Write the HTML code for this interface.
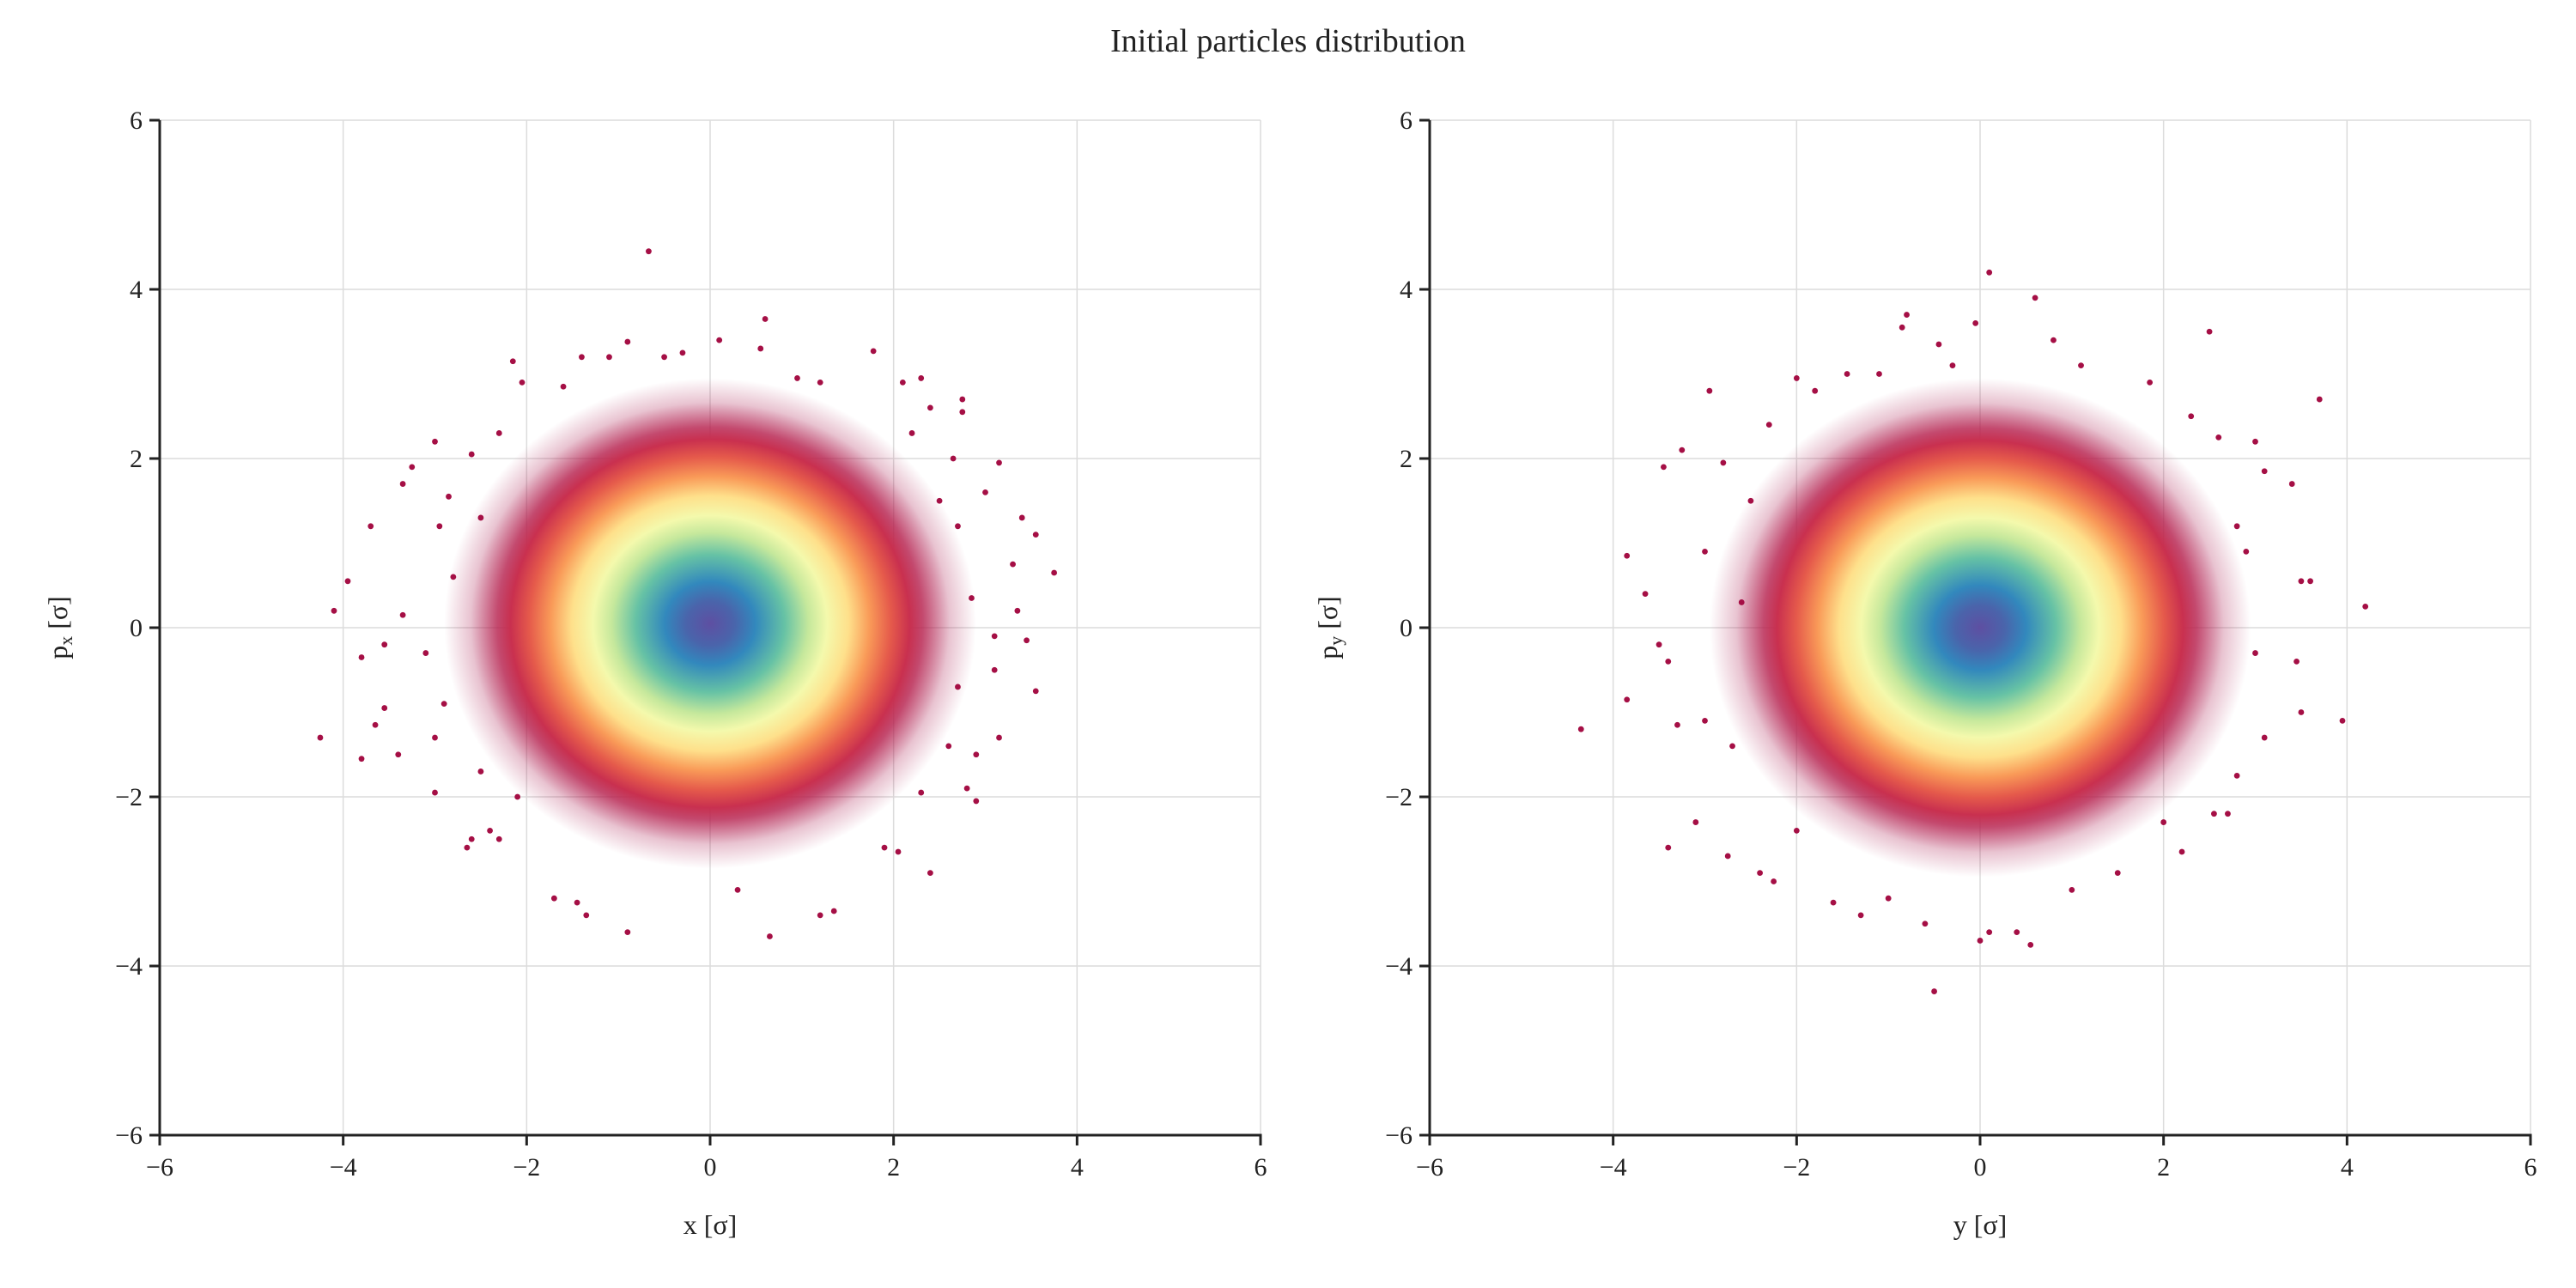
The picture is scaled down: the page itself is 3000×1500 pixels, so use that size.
<!DOCTYPE html>
<html><head><meta charset="utf-8"><style>
html,body{margin:0;padding:0;background:#fff;}
svg{display:block;font-family:"Liberation Serif","DejaVu Serif",serif;}
</style></head><body>
<svg id="chart" width="3000" height="1500" viewBox="0 0 3000 1500" xmlns="http://www.w3.org/2000/svg">
<defs>
<radialGradient id="core" cx="0.5" cy="0.5" r="0.5">
<stop offset="0" stop-color="#5e4fa2"/>
<stop offset="0.09" stop-color="#4a64ab"/>
<stop offset="0.17" stop-color="#3288bd"/>
<stop offset="0.28" stop-color="#66c2a5"/>
<stop offset="0.37" stop-color="#c5e89c"/>
<stop offset="0.44" stop-color="#f4f9ac"/>
<stop offset="0.52" stop-color="#fee08b"/>
<stop offset="0.6" stop-color="#f99a58"/>
<stop offset="0.68" stop-color="#e55a4b"/>
<stop offset="0.75" stop-color="#c9304f"/>
<stop offset="0.8" stop-color="#b51c4a" stop-opacity="0.8"/>
<stop offset="0.9" stop-color="#a50f45" stop-opacity="0.25"/>
<stop offset="1" stop-color="#a50f45" stop-opacity="0"/>
</radialGradient>
</defs>
<text x="1500" y="60" font-size="38" text-anchor="middle" fill="#222">Initial particles distribution</text>
<g id="p0"></g><g id="p1"></g>
</svg>
<script>
const tickValues=[-6,-4,-2,0,2,4,6];
const tickLabels=["\u22126","\u22124","\u22122","0","2","4","6"];
const coreCenterLeft=[0,0.05];
const coreCenterRight=[0,0];
const coreRadius=[2.9,2.95];
const leftX=[-0.67,0.6,1.78,0.55,-0.3,-1.4,-2.15,-1.6,-2.05,2.1,2.3,2.75,2.75,2.4,2.65,3.15,3.0,3.4,3.55,3.75,3.3,3.35,3.45,3.55,3.1,3.15,2.9,2.9,2.8,2.4,2.05,1.35,1.2,0.65,0.3,-0.9,-1.35,-1.45,-1.7,-2.6,-2.65,-2.4,-3.0,-3.4,-3.8,-4.25,-3.65,-3.55,-3.8,-3.55,-4.1,-3.95,-3.35,-3.7,-3.35,-3.25,-3.0,-2.85,-2.6,-2.5,-2.95,-3.1,-2.9,-3.0,-2.3,-2.1,1.9,2.3,2.6,2.7,2.85,2.7,2.5,1.2,-0.9,0.1,-1.1,-0.5,0.95,-2.5,-2.3,2.2,3.1,-2.8];
const leftY=[4.45,3.65,3.27,3.3,3.25,3.2,3.15,2.85,2.9,2.9,2.95,2.7,2.55,2.6,2.0,1.95,1.6,1.3,1.1,0.65,0.75,0.2,-0.15,-0.75,-0.5,-1.3,-1.5,-2.05,-1.9,-2.9,-2.65,-3.35,-3.4,-3.65,-3.1,-3.6,-3.4,-3.25,-3.2,-2.5,-2.6,-2.4,-1.95,-1.5,-1.55,-1.3,-1.15,-0.95,-0.35,-0.2,0.2,0.55,0.15,1.2,1.7,1.9,2.2,1.55,2.05,1.3,1.2,-0.3,-0.9,-1.3,-2.5,-2.0,-2.6,-1.95,-1.4,-0.7,0.35,1.2,1.5,2.9,3.38,3.4,3.2,3.2,2.95,-1.7,2.3,2.3,-0.1,0.6];
const rightX=[0.1,-0.05,0.6,-0.8,-0.85,-0.45,0.8,2.5,-1.45,-1.1,-2.95,-2.0,-1.8,3.7,3.0,3.1,3.4,2.6,3.5,3.6,4.2,3.45,3.95,3.5,3.1,2.8,2.7,2.55,2.2,1.5,0.55,0.4,0.1,0.0,-0.5,-0.6,-1.3,-1.6,-2.25,-2.4,-2.75,-3.1,-3.4,-4.35,-3.85,-3.85,-3.65,-3.5,-3.3,-3.0,-3.4,-3.45,-3.25,-2.8,-2.5,-3.0,-2.6,-2.7,2.9,3.0,2.8,1.1,-0.3,1.85,-2.0,2.0,-1.0,1.0,-2.3,2.3];
const rightY=[4.2,3.6,3.9,3.7,3.55,3.35,3.4,3.5,3.0,3.0,2.8,2.95,2.8,2.7,2.2,1.85,1.7,2.25,0.55,0.55,0.25,-0.4,-1.1,-1.0,-1.3,-1.75,-2.2,-2.2,-2.65,-2.9,-3.75,-3.6,-3.6,-3.7,-4.3,-3.5,-3.4,-3.25,-3.0,-2.9,-2.7,-2.3,-2.6,-1.2,-0.85,0.85,0.4,-0.2,-1.15,-1.1,-0.4,1.9,2.1,1.95,1.5,0.9,0.3,-1.4,0.9,-0.3,1.2,3.1,3.1,2.9,-2.4,-2.3,-3.2,-3.1,2.4,2.5];

const NS="http://www.w3.org/2000/svg";
function mk(tag,attrs,parent){const e=document.createElementNS(NS,tag);for(const k in attrs)e.setAttribute(k,attrs[k]);parent.appendChild(e);return e;}

function panel(g,left,xs,ys,center,rad,xlabel,ylab,ylabX){
  const right=left+1282, top=140, bottom=1322;
  const sx=v=>left+(v+6)/12*(right-left);
  const sy=v=>bottom-(v+6)/12*(bottom-top);
  tickValues.forEach((v,i)=>{
    const gx=mk('line',{x1:sx(v),x2:sx(v),y1:top,y2:bottom,stroke:'#dcdcdc','stroke-width':1.5},g);
    
    
    const gy=mk('line',{x1:left,x2:right,y1:sy(v),y2:sy(v),stroke:'#dcdcdc','stroke-width':1.5},g);
    
    
  });
  const c=mk('ellipse',{cx:sx(center[0]),cy:sy(center[1]),rx:rad*(right-left)/12,ry:rad*(bottom-top)/12,fill:'url(#core)'},g);
  
  
  xs.forEach((x,i)=>{
    const p=mk('circle',{cx:sx(x),cy:sy(ys[i]),r:3.4,fill:'#a50f45'},g);
    
    
  });
  const ax=mk('line',{x1:left,x2:right+1.5,y1:bottom,y2:bottom,stroke:'#222','stroke-width':3},g);
  
  
  const ay=mk('line',{x1:left,x2:left,y1:top,y2:bottom+1.5,stroke:'#222','stroke-width':3},g);
  
  
  tickValues.forEach((v,i)=>{
    mk('line',{x1:sx(v),x2:sx(v),y1:bottom,y2:bottom+12,stroke:'#222','stroke-width':3},g);
    const tx=mk('text',{x:sx(v),y:bottom+47,'font-size':30,'text-anchor':'middle',fill:'#222'},g);
    tx.textContent=tickLabels[i];
    
    
    mk('line',{x1:left-12,x2:left,y1:sy(v),y2:sy(v),stroke:'#222','stroke-width':3},g);
    const ty=mk('text',{x:left-20,y:sy(v)+10,'font-size':30,'text-anchor':'end',fill:'#222'},g);
    ty.textContent=tickLabels[i];
    
    
  });
  const xl=mk('text',{x:(left+right)/2,y:1437,'font-size':32,'text-anchor':'middle',fill:'#222'},g);
  xl.textContent=xlabel;
  
  
  const yl=mk('text',{x:0,y:0,'font-size':32,'text-anchor':'middle',fill:'#222',transform:`translate(${ylabX},${(top+bottom)/2}) rotate(-90)`},g);
  
  
  const t1=mk('tspan',{},yl);t1.textContent='p';
  const t2=mk('tspan',{'font-size':22,dy:6},yl);t2.textContent=ylab;
  const t3=mk('tspan',{dy:-6},yl);t3.textContent=' [\u03c3]';
}
panel(document.getElementById('p0'),186,leftX,leftY,coreCenterLeft,coreRadius[0],'x [\u03c3]','x',78);
panel(document.getElementById('p1'),1665,rightX,rightY,coreCenterRight,coreRadius[1],'y [\u03c3]','y',1557);
document.getElementById('p0');
document.getElementById('p0');
document.getElementById('p1');
document.getElementById('p1');
</script>
</body></html>
